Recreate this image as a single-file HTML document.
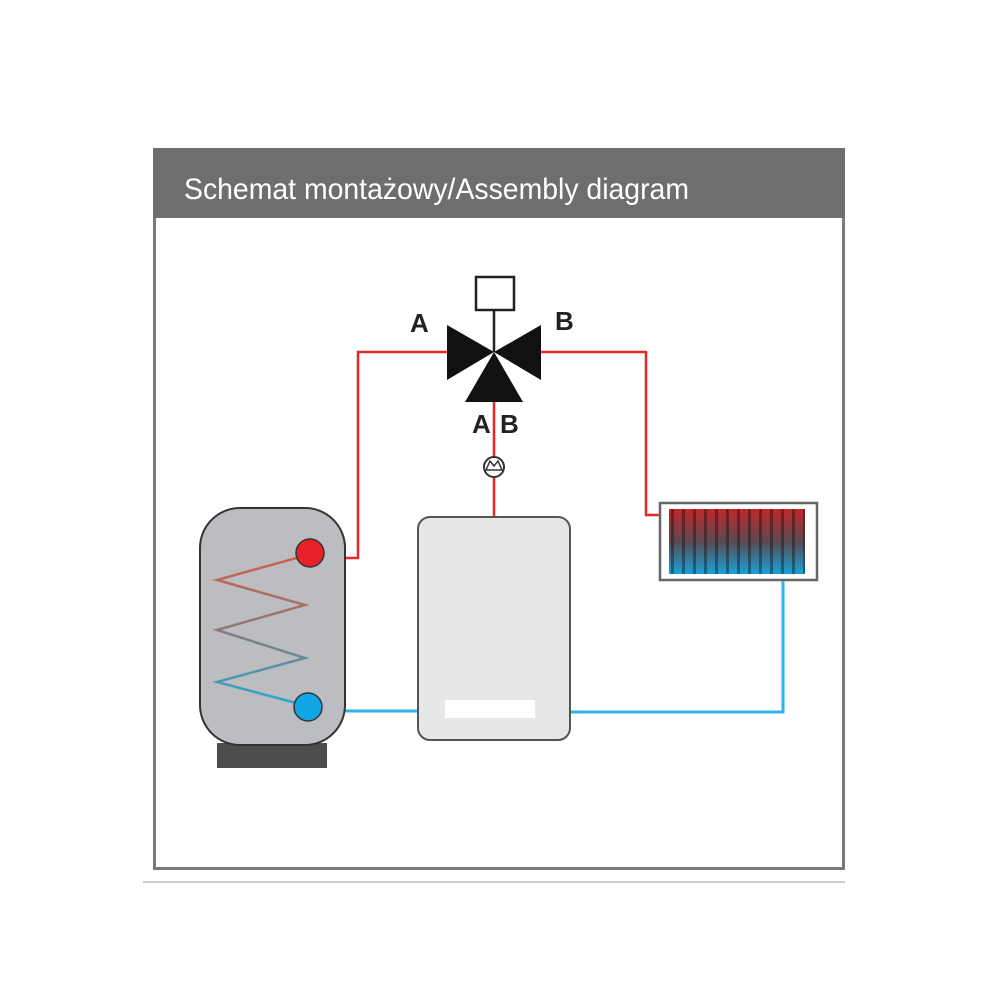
<!DOCTYPE html>
<html><head><meta charset="utf-8"><style>body{margin:0;background:#fff}svg{display:block}</style></head><body>
<svg width="1000" height="1000" viewBox="0 0 1000 1000">
<defs>
<linearGradient id="rg" x1="0" y1="0" x2="0" y2="1"><stop offset="0" stop-color="#c0282a"/><stop offset="0.5" stop-color="#5a4a50"/><stop offset="1" stop-color="#1aa0d8"/></linearGradient>
<linearGradient id="cg" x1="0" y1="0" x2="0" y2="1"><stop offset="0" stop-color="#d0604a"/><stop offset="0.5" stop-color="#8a7a7a"/><stop offset="1" stop-color="#2aa8d0"/></linearGradient>
<pattern id="fins" width="11" height="80" patternUnits="userSpaceOnUse"><rect width="11" height="80" fill="none"/><rect x="0" width="3" height="80" fill="rgba(0,0,0,0.35)"/></pattern>
</defs>
<rect x="154.5" y="149.5" width="689" height="719" fill="#fff" stroke="#7a7a7c" stroke-width="3"/>
<rect x="153" y="148" width="692" height="70" fill="#6d6e70"/>
<text x="184" y="199" fill="#fff" font-family="Liberation Sans, sans-serif" font-size="30" textLength="505" lengthAdjust="spacingAndGlyphs">Schemat montażowy/Assembly diagram</text>
<line x1="143" y1="882" x2="845" y2="882" stroke="#ccc" stroke-width="2"/>
<g stroke="#e8262c" stroke-width="2.5" fill="none">
<polyline points="447,352 358,352 358,558 345,558"/>
<polyline points="540,352 646,352 646,515 660,515"/>
<line x1="494" y1="400" x2="494" y2="518"/>
</g>
<g stroke="#33b4e8" stroke-width="3" fill="none">
<line x1="345" y1="711" x2="418" y2="711"/>
<polyline points="570,712 783,712 783,580"/>
</g>
<rect x="476" y="277" width="38" height="33" fill="#fff" stroke="#222" stroke-width="2.5"/>
<line x1="494" y1="310" x2="494" y2="352" stroke="#222" stroke-width="2.5"/>
<polygon points="447,325 494,352 447,380" fill="#111"/>
<polygon points="541,325 494,352 541,380" fill="#111"/>
<polygon points="465,402 494,352 523,402" fill="#111"/>
<g font-family="Liberation Sans, sans-serif" font-weight="bold" font-size="26" fill="#222">
<text x="410" y="332">A</text><text x="555" y="330">B</text>
<text x="472" y="433">A</text><text x="500" y="433">B</text>
</g>
<circle cx="494" cy="467" r="10" fill="#fff" stroke="#333" stroke-width="2"/>
<path d="M486,470 L490,461 L494,466 L498,461 L502,470 Z" fill="none" stroke="#333" stroke-width="1.5"/>
<rect x="418" y="517" width="152" height="223" rx="12" fill="#e6e7e8" stroke="#555" stroke-width="2"/>
<rect x="445" y="700" width="90" height="18" fill="#fff"/>
<rect x="217" y="743" width="110" height="25" fill="#4d4d4f"/>
<rect x="200" y="508" width="145" height="237" rx="40" fill="#bcbdc0" stroke="#333" stroke-width="2"/>
<polyline points="300,557 217,580 305,605 217,630 305,658 217,682 300,704" fill="none" stroke="url(#cg)" stroke-width="2.5"/>
<circle cx="310" cy="553" r="14" fill="#e8202a" stroke="#333" stroke-width="1.5"/>
<circle cx="308" cy="707" r="14" fill="#12a6e6" stroke="#333" stroke-width="1.5"/>
<rect x="660" y="503" width="157" height="77" fill="#fff" stroke="#666" stroke-width="2.5"/>
<rect x="669" y="509" width="136" height="65" fill="url(#rg)"/>
<rect x="669" y="509" width="136" height="65" fill="url(#fins)"/>
</svg>
</body></html>
